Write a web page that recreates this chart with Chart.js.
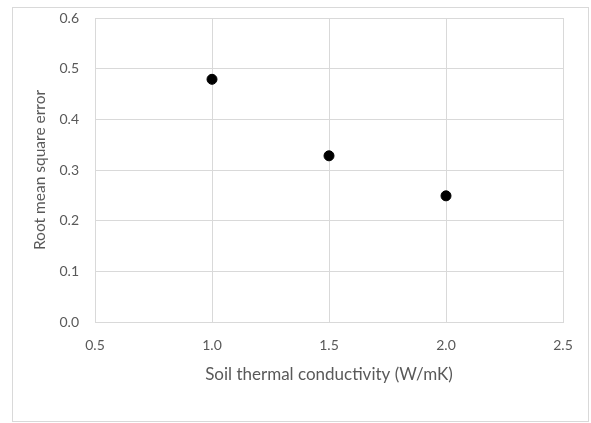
<!DOCTYPE html>
<html>
<head>
<meta charset="utf-8">
<script src="https://cdn.jsdelivr.net/npm/chart.js@4"></script>
<style>
  body { margin: 0; background: #fff; }
  #wrap { position: relative; width: 591px; height: 423px; }
  #frame { position: absolute; left: 12px; top: 7px; width: 575px; height: 413px; border: 1px solid #d9d9d9; }
  canvas { position: absolute; left: 0; top: 0; }
</style>
</head>
<body>
<div id="wrap">
  <div id="frame"></div>
  <canvas id="rmse-chart" width="591" height="423"></canvas>
</div>
<script>
// soil thermal conductivity (W/mK) vs RMSE
const conductivity = [1.0, 1.5, 2.0]
const rmse = [0.479, 0.328, 0.249]
const x_title = 'Soil thermal conductivity (W/mK)'
const y_title = 'Root mean square error'

const grid_color = '#d9d9d9'
const text_color = '#595959'
const font_family = 'Lato, "Open Sans", sans-serif'

const ctx = document.getElementById('rmse-chart').getContext('2d')

new Chart(ctx, {
  type: 'scatter',
  data: {
    datasets: [{
      data: conductivity.map((x, i) => ({ x: x, y: rmse[i] })),
      backgroundColor: '#000',
      borderColor: '#000',
      pointRadius: 5,
      pointHoverRadius: 5
    }]
  },
  options: {
    responsive: false,
    animation: false,
    layout: {
      padding: { left: 31, right: 28, top: 18, bottom: 38 }
    },
    plugins: {
      legend: { display: false },
      tooltip: { enabled: false }
    },
    scales: {
      x: {
        min: 0.5,
        max: 2.5,
        ticks: {
          stepSize: 0.5,
          color: text_color,
          padding: 15,
          font: { family: font_family, size: 14 },
          callback: (v) => v.toFixed(1)
        },
        grid: { color: grid_color, tickLength: 0 },
        border: { color: grid_color },
        title: {
          display: true,
          text: x_title,
          color: text_color,
          font: { family: font_family, size: 17 },
          padding: { top: 8, bottom: 0 }
        },
        afterFit(scale) {
          scale.height = 63
          scale.paddingLeft = 0
          scale.paddingRight = 0
        }
      },
      y: {
        min: 0,
        max: 0.6,
        ticks: {
          stepSize: 0.1,
          color: text_color,
          padding: 16,
          font: { family: font_family, size: 14 },
          callback: (v) => v.toFixed(1)
        },
        grid: { color: grid_color, tickLength: 0 },
        border: { color: grid_color },
        title: {
          display: true,
          text: y_title,
          color: text_color,
          font: { family: font_family, size: 15.5 },
          padding: { top: 0, bottom: 0 }
        },
        afterFit(scale) {
          scale.width = 64
          scale.paddingTop = 0
          scale.paddingBottom = 0
        }
      }
    }
  }
})
</script>
</body>
</html>
